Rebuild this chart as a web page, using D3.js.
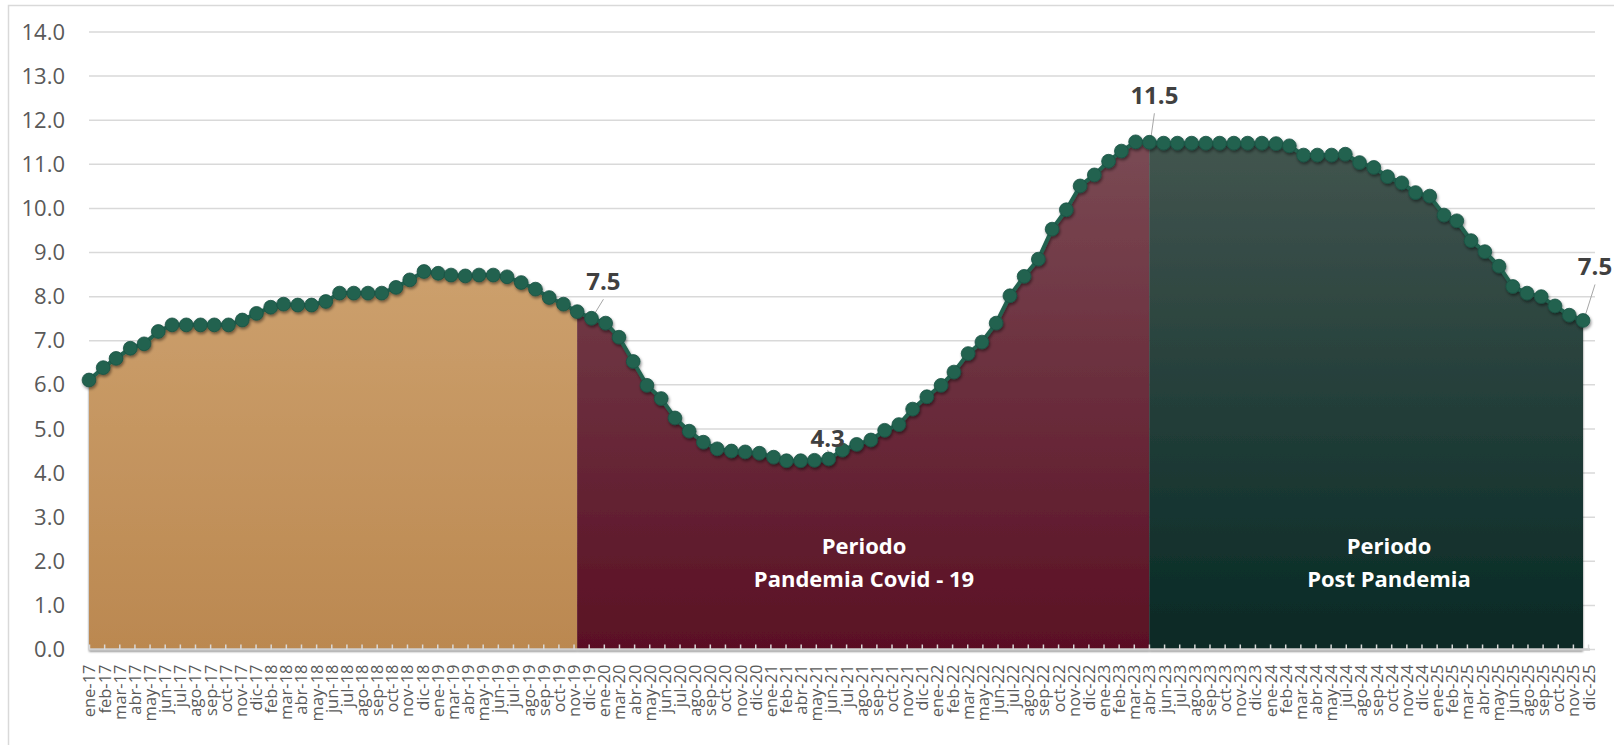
<!DOCTYPE html>
<html>
<head>
<meta charset="utf-8">
<script src="https://cdn.jsdelivr.net/npm/d3@7"></script>
<style>
  html, body { margin: 0; padding: 0; background: #fff; }
  svg { display: block; font-family: "Open Sans", sans-serif; }
</style>
</head>
<body>
<div id="chart"></div>
<script>
// monthly values, ene-17 .. dic-25
var values = [
  6.11, 6.39, 6.60, 6.83, 6.93, 7.21, 7.36, 7.36, 7.36, 7.36, 7.36, 7.47,
  7.62, 7.76, 7.83, 7.81, 7.81, 7.89, 8.08, 8.08, 8.08, 8.08, 8.21, 8.38,
  8.57, 8.53, 8.49, 8.47, 8.49, 8.49, 8.45, 8.32, 8.17, 7.98, 7.83, 7.66,
  7.51, 7.40, 7.08, 6.53, 5.99, 5.69, 5.25, 4.95, 4.70, 4.55, 4.50, 4.48,
  4.45, 4.36, 4.28, 4.28, 4.29, 4.32, 4.52, 4.65, 4.75, 4.97, 5.10, 5.45,
  5.73, 5.99, 6.29, 6.71, 6.97, 7.40, 8.02, 8.46, 8.85, 9.53, 9.97, 10.51,
  10.76, 11.07, 11.30, 11.51, 11.50, 11.48, 11.48, 11.48, 11.48, 11.48, 11.48, 11.48,
  11.48, 11.47, 11.42, 11.21, 11.21, 11.21, 11.23, 11.04, 10.93, 10.72, 10.58, 10.36,
  10.28, 9.85, 9.72, 9.27, 9.02, 8.69, 8.23, 8.08, 8.00, 7.79, 7.58, 7.46
];
var firstMonth = "2017-01";

// axis labels are placed every 33 days (date axis), so some months are skipped
var tickLabels = [
  "ene-17", "feb-17", "mar-17", "abr-17", "may-17", "jun-17", "jul-17", "ago-17", "sep-17", "oct-17",
  "nov-17", "dic-17", "feb-18", "mar-18", "abr-18", "may-18", "jun-18", "jul-18", "ago-18", "sep-18",
  "oct-18", "nov-18", "dic-18", "ene-19", "mar-19", "abr-19", "may-19", "jun-19", "jul-19", "ago-19",
  "sep-19", "oct-19", "nov-19", "dic-19", "ene-20", "mar-20", "abr-20", "may-20", "jun-20", "jul-20",
  "ago-20", "sep-20", "oct-20", "nov-20", "dic-20", "ene-21", "feb-21", "abr-21", "may-21", "jun-21",
  "jul-21", "ago-21", "sep-21", "oct-21", "nov-21", "dic-21", "ene-22", "feb-22", "mar-22", "may-22",
  "jun-22", "jul-22", "ago-22", "sep-22", "oct-22", "nov-22", "dic-22", "ene-23", "feb-23", "mar-23",
  "abr-23", "jun-23", "jul-23", "ago-23", "sep-23", "oct-23", "nov-23", "dic-23", "ene-24", "feb-24",
  "mar-24", "abr-24", "may-24", "jul-24", "ago-24", "sep-24", "oct-24", "nov-24", "dic-24", "ene-25",
  "feb-25", "mar-25", "abr-25", "may-25", "jun-25", "ago-25", "sep-25", "oct-25", "nov-25", "dic-25"
];
var tickStepDays = 33;
var yTicks = [0, 1, 2, 3, 4, 5, 6, 7, 8, 9, 10, 11, 12, 13, 14];

// period boundaries (months) and names
var periodBreaks = ["2017-01", "2019-12", "2023-05", "2025-12"];
var periodNames = [[], ["Periodo", "Pandemia Covid - 19"], ["Periodo", "Post Pandemia"]];

// points that carry a data label
var labeledMonths = ["2020-01", "2021-06", "2023-05", "2025-12"];

/* ---- styles / layout ---- */
var chart = { width: 1614, height: 745, left: 89, right: 1583, top: 32, bottom: 649.5, gridEnd: 1595 };
var periodFills = [
  ["#d2a877", "#bb8850"],
  ["#7a4a54", "#5a1024"],
  ["#42554f", "#072925"]
];
var periodTextPos = [null, [864, 554], [1389, 554]];
var labelOffsets = [[12, -28], [-1, -12], [5, -38], [12, -45]];
var dotColor = "#21624f";

var parseMonth = d3.timeParse("%Y-%m");
var start = parseMonth(firstMonth);
var data = values.map((v, i) => ({ date: d3.timeMonth.offset(start, i), value: v }));
var tickDates = tickLabels.map((t, i) => d3.timeDay.offset(start, i * tickStepDays));

var svg = d3.select("#chart").append("svg")
  .attr("width", chart.width)
  .attr("height", chart.height);

var defs = svg.append("defs");

var x = d3.scaleTime()
  .domain([start, data[data.length - 1].date])
  .range([chart.left, chart.right]);

var y = d3.scaleLinear()
  .domain([0, 14])
  .range([chart.bottom, chart.top]);

/* frame */
svg.append("rect")
  .attr("x", 8.5).attr("y", 5.5)
  .attr("width", chart.width + 20).attr("height", chart.height + 20)
  .attr("fill", "none")
  .attr("stroke", "#d9d9d9")
  .attr("stroke-width", 1.5);

/* shadows */
var sh = defs.append("filter").attr("id", "dotShadow")
  .attr("x", "-20%").attr("y", "-20%").attr("width", "140%").attr("height", "140%");
sh.append("feDropShadow")
  .attr("dx", 1).attr("dy", 2).attr("stdDeviation", 1.6)
  .attr("flood-color", "#000").attr("flood-opacity", 0.45);

var ash = defs.append("filter").attr("id", "areaShadow")
  .attr("x", "-5%").attr("y", "-5%").attr("width", "110%").attr("height", "110%");
ash.append("feDropShadow")
  .attr("dx", 0).attr("dy", 2).attr("stdDeviation", 1.2)
  .attr("flood-color", "#000").attr("flood-opacity", 0.55);

/* gridlines */
svg.append("g")
  .selectAll("line")
  .data(yTicks)
  .join("line")
  .attr("x1", chart.left)
  .attr("x2", chart.gridEnd)
  .attr("y1", (d) => y(d))
  .attr("y2", (d) => y(d))
  .attr("stroke", "#d9d9d9")
  .attr("stroke-width", 1.5);

/* y axis labels */
var yAxis = (g) =>
  g
    .attr("transform", `translate(${chart.left}, 0)`)
    .call(d3.axisLeft(y).tickValues(yTicks).tickFormat(d3.format(".1f")).tickSize(0).tickPadding(24))
    .call((g) => g.select(".domain").remove())
    .call((g) => g.selectAll("text")
      .attr("fill", "#595959")
      .style("font-size", "22px")
      .style("font-family", "'Open Sans', sans-serif"));
svg.append("g").call(yAxis);

/* period areas */
var area = d3.area()
  .x((d) => x(d.date))
  .y0(y(0))
  .y1((d) => y(d.value));

var areaG = svg.append("g").attr("filter", "url(#areaShadow)");
for (var k = 0; k < periodBreaks.length - 1; k++) {
  var a = parseMonth(periodBreaks[k]);
  var b = parseMonth(periodBreaks[k + 1]);
  var seg = data.filter((d) => d.date >= a && d.date <= b);

  var grad = defs.append("linearGradient")
    .attr("id", "grad" + k)
    .attr("gradientUnits", "userSpaceOnUse")
    .attr("x1", 0).attr("x2", 0)
    .attr("y1", y(11.5)).attr("y2", y(0));
  grad.append("stop").attr("offset", 0).attr("stop-color", periodFills[k][0]);
  grad.append("stop").attr("offset", 1).attr("stop-color", periodFills[k][1]);

  areaG.append("path")
    .datum(seg)
    .attr("fill", `url(#grad${k})`)
    .attr("d", area);
}

/* x axis */
var xAxis = (g) =>
  g
    .attr("transform", `translate(0, ${y(0)})`)
    .call(d3.axisBottom(x).tickValues(tickDates).tickSize(-5).tickPadding(0)
      .tickFormat((d, i) => tickLabels[i]))
    .call((g) => g.select(".domain").remove())
    .call((g) => g.selectAll(".tick line").attr("stroke", "#d9d9d9").attr("stroke-width", 1.5))
    .call((g) => g.selectAll("text")
      .attr("transform", "rotate(-90)")
      .attr("text-anchor", "end")
      .attr("x", -15)
      .attr("y", 0)
      .attr("dy", "0.36em")
      .attr("fill", "#595959")
      .style("font-size", "16.5px")
      .style("font-family", "'Open Sans', sans-serif"));

svg.append("line")
  .attr("x1", chart.left).attr("x2", chart.gridEnd - 5)
  .attr("y1", y(0)).attr("y2", y(0))
  .attr("stroke", "#cfcfcf")
  .attr("stroke-width", 2.5);

svg.append("g").call(xAxis);

/* period texts */
periodNames.forEach((lines, k) => {
  if (!lines.length) return;
  svg.append("text")
    .attr("x", periodTextPos[k][0])
    .attr("y", periodTextPos[k][1])
    .attr("text-anchor", "middle")
    .attr("fill", "#fff")
    .style("font-size", "22px")
    .style("font-weight", "bold")
    .selectAll("tspan")
    .data(lines)
    .join("tspan")
    .attr("x", periodTextPos[k][0])
    .attr("dy", (d, i) => (i === 0 ? 0 : 33))
    .text((d) => d);
});

/* leader lines (drawn under the dots) */
var leaderG = svg.append("g");

/* line + dots */
var line = d3.line()
  .x((d) => x(d.date))
  .y((d) => y(d.value));

var lineG = svg.append("g").attr("filter", "url(#dotShadow)");
lineG.append("path")
  .datum(data)
  .attr("fill", "none")
  .attr("stroke", dotColor)
  .attr("stroke-width", 4)
  .attr("stroke-linejoin", "round")
  .attr("d", line);

lineG.append("g")
  .selectAll("circle")
  .data(data)
  .join("circle")
  .attr("cx", (d) => x(d.date))
  .attr("cy", (d) => y(d.value))
  .attr("r", 6.9)
  .attr("fill", dotColor)
  .attr("stroke", "#1a5244")
  .attr("stroke-width", 0.8);

/* data labels */
labeledMonths.forEach((m, i) => {
  var dt = parseMonth(m);
  var d = data.find((p) => +p.date === +dt);
  var px = x(d.date), py = y(d.value);
  var lx = px + labelOffsets[i][0], ly = py + labelOffsets[i][1];
  leaderG.append("line")
    .attr("x1", lx).attr("y1", ly + (labelOffsets[i][1] < -20 ? 9 : 3))
    .attr("x2", px + 1).attr("y2", py - 1)
    .attr("stroke", "#a6a6a6")
    .attr("stroke-width", 1);
  svg.append("text")
    .attr("x", lx)
    .attr("y", ly)
    .attr("text-anchor", "middle")
    .attr("fill", "#404040")
    .style("font-size", "24px")
    .style("font-weight", "bold")
    .text(d3.format(".1f")(d.value));
});
</script>
</body>
</html>
